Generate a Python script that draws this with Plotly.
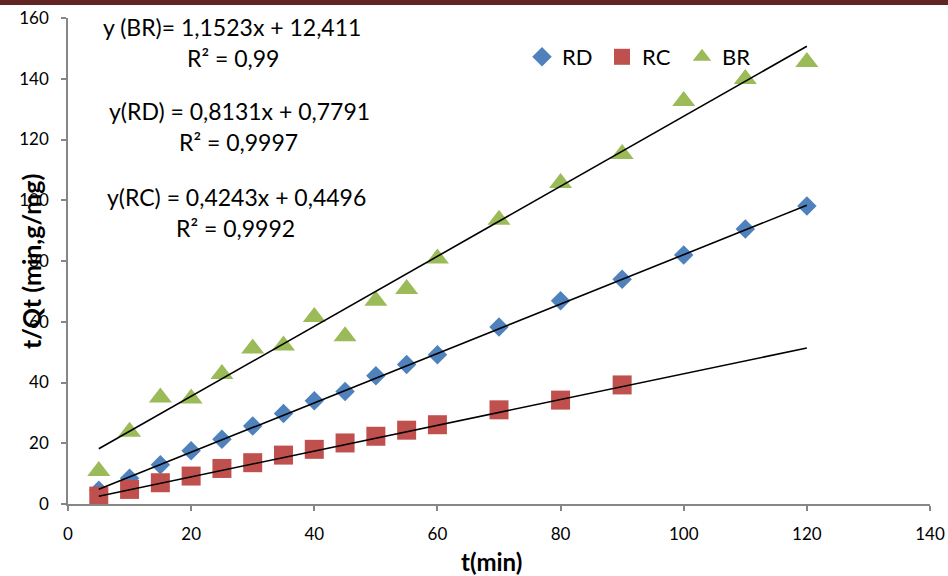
import plotly.graph_objects as go

# ---- data ----
t_min = [5, 10, 15, 20, 25, 30, 35, 40, 45, 50, 55, 60, 70, 80, 90, 100, 110, 120]
rd = [4.5, 8.5, 12.9, 17.5, 21.3, 25.7, 29.8, 34.0, 37.0, 42.2, 45.9, 49.1, 58.3, 66.9, 74.0, 82.0, 90.5, 98.1]
rc_t = [5, 10, 15, 20, 25, 30, 35, 40, 45, 50, 55, 60, 70, 80, 90]
rc = [2.6, 4.8, 7.0, 9.2, 11.7, 13.6, 16.1, 18.0, 20.1, 22.3, 24.3, 26.1, 31.0, 34.2, 39.2]
br = [10.9, 23.8, 35.1, 34.7, 42.8, 51.2, 52.2, 61.6, 55.2, 66.9, 70.8, 80.8, 93.6, 105.7, 115.2, 132.7, 139.9, 145.5]

series_names = ["RD", "RC", "BR"]
# trendline coefficients (slope, intercept) as shown in the chart
fit = {"BR": (1.1523, 12.411), "RD": (0.8131, 0.7791), "RC": (0.4243, 0.4496)}
fit_range = [5, 120]
eq_labels = [
    "y (BR)= 1,1523x + 12,411", "R² = 0,99",
    "y(RD) = 0,8131x + 0,7791", "R² = 0,9997",
    "y(RC) = 0,4243x + 0,4496", "R² = 0,9992",
]
x_ticks = [0, 20, 40, 60, 80, 100, 120, 140]
y_ticks = [0, 20, 40, 60, 80, 100, 120, 140, 160]

FONT = "Lato"
W, H = 948, 576
ML, MR, MT, MB = 68, 18, 18, 72
PW, PH = W - ML - MR, H - MT - MB

def px_x(p):
    return (p - ML) / PW

def px_y(p):
    return (H - MB - p) / PH

fig = go.Figure()
fig.add_trace(go.Scatter(x=t_min, y=rd, mode="markers", name="RD",
                         marker=dict(symbol="diamond", size=15, color="#4F81BD")))
fig.add_trace(go.Scatter(x=rc_t, y=rc, mode="markers", name="RC",
                         marker=dict(symbol="square", size=19, color="#C0504D")))
fig.add_trace(go.Scatter(x=t_min, y=br, mode="markers", name="BR",
                         marker=dict(symbol="triangle-up", size=20, color="#9BBB59")))
for nm in ["BR", "RD", "RC"]:
    a, b = fit[nm]
    fig.add_trace(go.Scatter(x=fit_range, y=[a * v + b for v in fit_range], mode="lines",
                             line=dict(color="black", width=1.6), showlegend=False,
                             hoverinfo="skip"))

ann_pos = [(232, 27), (233, 58), (239, 111), (238, 142), (236, 197), (235, 228)]
for txt, (xp, yp) in zip(eq_labels, ann_pos):
    fig.add_annotation(x=px_x(xp), y=px_y(yp), xref="paper", yref="paper", text=txt,
                       showarrow=False, font=dict(family=FONT, size=23, color="black"),
                       xanchor="center", yanchor="middle")

fig.add_annotation(x=px_x(31), y=px_y(262), xref="paper", yref="paper",
                   text="<b>t/Qt (min,g/mg)</b>", textangle=-90, showarrow=False,
                   font=dict(family=FONT, size=25, color="black"),
                   xanchor="center", yanchor="middle")
fig.add_annotation(x=px_x(491), y=px_y(561), xref="paper", yref="paper",
                   text="<b>t(min)</b>", showarrow=False,
                   font=dict(family=FONT, size=24, color="black"),
                   xanchor="center", yanchor="middle")

# top decorative bar
fig.add_shape(type="rect", xref="paper", yref="paper", x0=px_x(0), x1=px_x(W),
              y0=px_y(5), y1=px_y(0), fillcolor="#632523", line=dict(width=0), layer="above")

axis_common = dict(showgrid=False, zeroline=False, showline=True, linecolor="#868686",
                   linewidth=1.5, ticks="outside", tickcolor="#868686", ticklen=5,
                   tickwidth=1.5, ticklabelstandoff=9, automargin=False,
                   tickfont=dict(family=FONT, size=17, color="black"))
fig.update_xaxes(range=[0, 140], tickvals=x_ticks, **axis_common)
fig.update_yaxes(range=[0, 160], tickvals=y_ticks, **axis_common)

# initial size fits inside the default 8px body margin; resized after margin removal
fig.update_layout(
    width=W - 8, height=H - 8, margin=dict(l=ML, r=MR, t=MT, b=MB, autoexpand=False),
    plot_bgcolor="white", paper_bgcolor="white",
    legend=dict(orientation="h", x=px_x(522), y=px_y(36), xanchor="left", yanchor="top",
                font=dict(family=FONT, size=22, color="black"), bgcolor="rgba(0,0,0,0)",
                itemwidth=30, entrywidth=35, entrywidthmode="pixels", tracegroupgap=0),
    showlegend=True,
)

post = (
    "var gd=document.getElementById('{plot_id}');"
    "document.body.style.margin='0';document.body.style.overflow='hidden';"
    "gd.style.width='%dpx';gd.style.height='%dpx';"
    "Plotly.relayout(gd,{width:%d,height:%d});" % (W, H, W, H)
)
fig.write_html("out.html", config={"displayModeBar": False}, post_script=post)
